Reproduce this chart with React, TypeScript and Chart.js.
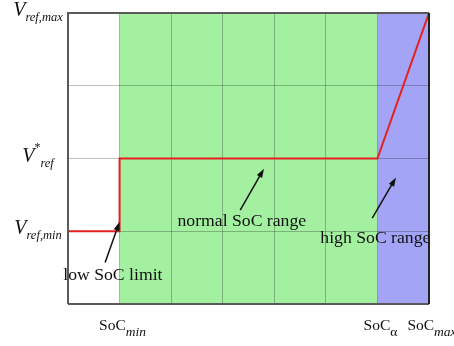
import React, { useEffect, useRef } from 'react';
import { Chart, registerables } from 'chart.js';

Chart.register(...registerables);

// Reference voltage curve over state of charge
const socAxis = [0, 1, 1, 6, 7];
const vrefCurve = [1, 1, 2, 2, 4];

// Shaded operating ranges
const rangeFrom = [1, 6];
const rangeTo = [6, 7];
const rangeColors = ['#a3f0a0', '#a4a4f6'];

// Axis tick labels
const xTickValues = [1, 6, 7];
const xTickSubs = ['min', 'α', 'max'];
const yTickValues = [4, 2, 1];
const yTickSups = ['', '*', ''];
const yTickSubs = ['ref,max', 'ref', 'ref,min'];

// Callout texts with arrow tail/head, in data units
const callouts = [
  { text: 'low SoC limit', x: 0.87, y: 0.33, from: [0.72, 0.57], to: [1.0, 1.13] },
  { text: 'normal SoC range', x: 3.37, y: 1.07, from: [3.34, 1.29], to: [3.8, 1.86] },
  { text: 'high SoC range', x: 5.96, y: 0.84, from: [5.9, 1.18], to: [6.36, 1.74] },
];

const SERIF = "'Liberation Serif', 'Times New Roman', serif";

type Part = { text: string; font: string; dy: number };

function drawParts(ctx: CanvasRenderingContext2D, parts: Part[], cx: number, y: number) {
  let total = 0;
  const widths = parts.map((p) => {
    ctx.font = p.font;
    const w = ctx.measureText(p.text).width;
    total += w;
    return w;
  });
  let x = cx - total / 2;
  parts.forEach((p, i) => {
    ctx.font = p.font;
    ctx.fillText(p.text, x, y + p.dy);
    x += widths[i];
  });
}

function drawArrow(ctx: CanvasRenderingContext2D, x1: number, y1: number, x2: number, y2: number) {
  const ang = Math.atan2(y2 - y1, x2 - x1);
  const len = 9;
  const half = 3;
  ctx.strokeStyle = '#111';
  ctx.fillStyle = '#111';
  ctx.lineWidth = 1.5;
  ctx.beginPath();
  ctx.moveTo(x1, y1);
  ctx.lineTo(x2 - Math.cos(ang) * len * 0.8, y2 - Math.sin(ang) * len * 0.8);
  ctx.stroke();
  ctx.beginPath();
  ctx.moveTo(x2, y2);
  ctx.lineTo(x2 - Math.cos(ang) * len - Math.sin(ang) * half, y2 - Math.sin(ang) * len + Math.cos(ang) * half);
  ctx.lineTo(x2 - Math.cos(ang) * len + Math.sin(ang) * half, y2 - Math.sin(ang) * len - Math.cos(ang) * half);
  ctx.closePath();
  ctx.fill();
}

const decorPlugin = {
  id: 'socDecor',
  beforeDraw(chart: any) {
    const { ctx, chartArea: a, scales } = chart;
    ctx.save();
    ctx.fillStyle = '#ffffff';
    ctx.fillRect(0, 0, chart.width, chart.height);
    rangeFrom.forEach((from, i) => {
      const x1 = scales.x.getPixelForValue(from);
      const x2 = scales.x.getPixelForValue(rangeTo[i]);
      ctx.fillStyle = rangeColors[i];
      ctx.fillRect(x1, a.top, x2 - x1, a.bottom - a.top);
    });
    ctx.restore();
  },
  afterDraw(chart: any) {
    const { ctx, chartArea: a, scales } = chart;
    ctx.save();
    // frame
    ctx.lineWidth = 2;
    ctx.strokeStyle = '#5a5a5a';
    ctx.beginPath();
    ctx.moveTo(a.left, a.bottom);
    ctx.lineTo(a.left, a.top);
    ctx.lineTo(a.right, a.top);
    ctx.moveTo(a.left, a.bottom);
    ctx.lineTo(a.right, a.bottom);
    ctx.stroke();
    ctx.strokeStyle = '#222';
    ctx.beginPath();
    ctx.moveTo(a.right, a.top);
    ctx.lineTo(a.right, a.bottom);
    ctx.stroke();

    ctx.fillStyle = '#111';
    ctx.textBaseline = 'alphabetic';
    ctx.textAlign = 'left';

    // y tick labels
    yTickValues.forEach((v, i) => {
      const py = scales.y.getPixelForValue(v);
      const parts: Part[] = [{ text: 'V', font: `italic 20px ${SERIF}`, dy: 3 }];
      if (yTickSups[i]) parts.push({ text: yTickSups[i], font: `12px ${SERIF}`, dy: -8 });
      parts.push({ text: yTickSubs[i], font: `italic 12.5px ${SERIF}`, dy: 8 });
      drawParts(ctx, parts, 38, py);
    });

    // x tick labels
    xTickValues.forEach((v, i) => {
      const px = scales.x.getPixelForValue(v);
      const sub = xTickSubs[i];
      const italic = sub !== 'α';
      drawParts(
        ctx,
        [
          { text: 'SoC', font: `15.5px ${SERIF}`, dy: 0 },
          { text: sub, font: `${italic ? 'italic ' : ''}13.5px ${SERIF}`, dy: 6 },
        ],
        px + 3,
        a.bottom + 26
      );
    });

    // callouts
    callouts.forEach((c) => {
      ctx.fillStyle = '#111';
      ctx.font = `17.7px ${SERIF}`;
      ctx.textAlign = 'center';
      ctx.fillText(c.text, scales.x.getPixelForValue(c.x), scales.y.getPixelForValue(c.y));
      drawArrow(
        ctx,
        scales.x.getPixelForValue(c.from[0]),
        scales.y.getPixelForValue(c.from[1]),
        scales.x.getPixelForValue(c.to[0]),
        scales.y.getPixelForValue(c.to[1])
      );
    });
    ctx.restore();
  },
};

export default function App() {
  const ref = useRef<HTMLCanvasElement | null>(null);

  useEffect(() => {
    if (!ref.current) return;
    const chart = new Chart(ref.current, {
      type: 'scatter',
      data: {
        datasets: [
          {
            data: socAxis.map((x, i) => ({ x, y: vrefCurve[i] })),
            showLine: true,
            borderColor: '#e4211f',
            borderWidth: 2,
            pointRadius: 0,
            fill: false,
            tension: 0,
          },
        ],
      },
      options: {
        animation: false,
        responsive: false,
        devicePixelRatio: 1,
        layout: { padding: { left: 68, right: 25, top: 13, bottom: 42 } },
        plugins: { legend: { display: false }, tooltip: { enabled: false } },
        scales: {
          x: {
            type: 'linear',
            min: 0,
            max: 7,
            ticks: { display: false, stepSize: 1 },
            grid: { color: 'rgba(0,0,0,0.25)', lineWidth: 1, drawTicks: false },
            border: { display: false },
          },
          y: {
            type: 'linear',
            min: 0,
            max: 4,
            ticks: { display: false, stepSize: 1 },
            grid: { color: 'rgba(0,0,0,0.25)', lineWidth: 1, drawTicks: false },
            border: { display: false },
          },
        },
      },
      plugins: [decorPlugin],
    });
    return () => chart.destroy();
  }, []);

  return (
    <div style={{ position: 'fixed', left: 0, top: 0, width: 454, height: 346, background: '#fff' }}>
      <canvas ref={ref} width={454} height={346} />
    </div>
  );
}
